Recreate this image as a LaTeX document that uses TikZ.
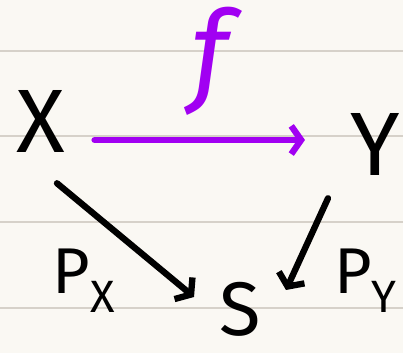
\documentclass[tikz,border=0pt]{standalone}
\usepackage{fontspec}
\setmainfont{Fira Sans}
\usetikzlibrary{arrows.meta,calc}
\definecolor{paper}{HTML}{FAF8F3}
\definecolor{rulegrey}{HTML}{D6D1C9}
\definecolor{fviolet}{HTML}{A100F2}
\tikzset{
  obj/.style={font=\fontsize{64}{64}\selectfont,inner sep=0pt},
  lab/.style={font=\fontsize{46}{46}\selectfont,inner sep=0pt},
  map/.style={line width=4.5pt,line cap=round,line join=round,
    -{Straight Barb[length=7pt,width=20pt,line width=4.5pt]}},
}
\begin{document}
\begin{tikzpicture}[x=0.025cm,y=0.025cm]
  % paper
  \fill[paper] (0,0) rectangle (403,353);
  \useasboundingbox (0,0) rectangle (403,353);
  \foreach \y in {51,136,222,308}
    \draw[rulegrey,line width=1.2pt] (0,353-\y) -- (403,353-\y);

  % objects
  \node[obj] (X) at (41,231) {X};
  \node[obj] (Y) at (375,208) {Y};
  \node[obj,font=\fontsize{54}{54}\selectfont] (S) at (240,44) {S};

  % f
  \draw[map,fviolet] ($(X.east)+(29,-18)$) -- ($(Y.west)+(-45,5)$);
  \node[fviolet,font=\fontsize{80}{80}\selectfont\itshape,inner sep=0pt] (flab) at (210,292) {f};

  % projections
  \draw[map] ($(X.south)+(16,-30)$) -- ($(S.west)+(-25,12)$);
  \draw[map] ($(Y.south)+(-47,-22)$) -- ($(S.east)+(25,19)$);
  \node[lab] (pX) at (84,72) {P\textsubscript{X}};
  \node[lab] (pY) at (366,72) {P\textsubscript{Y}};
\end{tikzpicture}
\end{document}
